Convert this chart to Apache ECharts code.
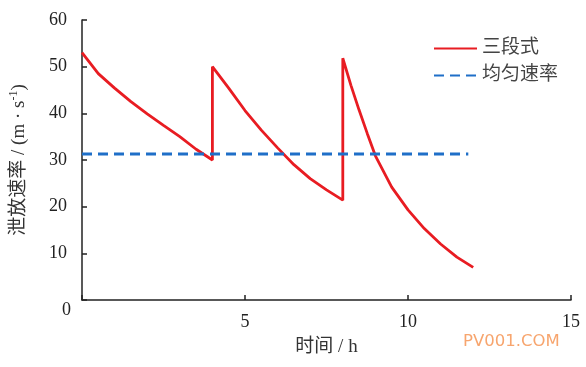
<!DOCTYPE html>
<html>
<head>
<meta charset="utf-8">
<script src="https://cdn.jsdelivr.net/npm/echarts@6/dist/echarts.min.js"></script>
<style>
html,body{margin:0;padding:0;background:#fff;}
#chart{width:586px;height:367px;}
</style>
</head>
<body>
<div id="chart"></div>
<script>
// Data
var seriesNames = ['三段式', '均匀速率'];
var stageTimes = [0, 0.5, 1, 1.5, 2, 2.5, 3, 3.5, 4,
                  4, 4.5, 5, 5.5, 6, 6.5, 7, 7.5, 8,
                  8, 8.25, 8.5, 8.75, 9, 9.5, 10, 10.5, 11, 11.5, 12];
var stageRates = [53.0, 48.5, 45.4, 42.5, 39.9, 37.4, 35.0, 32.3, 30.0,
                  50.0, 45.4, 40.6, 36.4, 32.6, 29.0, 26.0, 23.6, 21.4,
                  51.8, 46.0, 40.7, 35.7, 30.9, 24.2, 19.3, 15.3, 12.0, 9.2, 7.0];
var uniformTimes = [0, 11.85];
var uniformRates = [31.3, 31.3];
var xTicks = [0, 5, 10, 15];
var yTicks = [0, 10, 20, 30, 40, 50, 60];

var serif = '"Liberation Serif", "Noto Sans CJK SC", serif';
var chart = echarts.init(document.getElementById('chart'), null, {renderer: 'canvas'});

function pairs(xs, ys) { return xs.map(function (x, i) { return [x, ys[i]]; }); }

var option = {
  animation: false,
  backgroundColor: '#ffffff',
  grid: {left: 80, right: 15, top: 20, bottom: 67, containLabel: false},
  legend: {
    orient: 'vertical',
    left: 433, top: 39, padding: 0,
    itemWidth: 43, itemHeight: 14, itemGap: 8,
    itemStyle: {opacity: 0},
    textStyle: {fontFamily: serif, fontSize: 19, color: '#444'},
    data: [seriesNames[0], seriesNames[1]]
  },
  xAxis: {
    type: 'value', min: xTicks[0], max: xTicks[xTicks.length - 1], interval: 5,
    name: '时间 / h', nameLocation: 'middle', nameGap: 38,
    nameTextStyle: {fontFamily: serif, fontSize: 19, color: '#333'},
    axisLine: {show: true, lineStyle: {color: '#222', width: 1.5}},
    axisTick: {show: true, inside: true, length: 5, lineStyle: {color: '#222', width: 1.5}},
    axisLabel: {fontFamily: serif, fontSize: 18, color: '#222', margin: 13,
      formatter: function (v) { return v === 0 ? '' : String(v); }},
    splitLine: {show: false}
  },
  yAxis: {
    type: 'value', min: yTicks[0], max: yTicks[yTicks.length - 1], interval: 10,
    name: '{a|泄放速率 / (m · s}{sup|-1}{a|)}', nameLocation: 'middle', nameGap: 52,
    nameTextStyle: {fontFamily: serif, fontSize: 19, color: '#333',
      rich: {
        a: {fontFamily: serif, fontSize: 19, color: '#333'},
        sup: {fontFamily: serif, fontSize: 12, color: '#333', padding: [0, 0, 10, 0]}
      }},
    axisLine: {show: true, lineStyle: {color: '#222', width: 1.5}},
    axisTick: {show: true, inside: true, length: 5, lineStyle: {color: '#222', width: 1.5}},
    axisLabel: {fontFamily: serif, fontSize: 18, color: '#222', margin: 15,
      formatter: function (v) { return v === 0 ? '' : String(v); }},
    splitLine: {show: false}
  },
  graphic: [
    {type: 'text', left: 62, top: 301,
     style: {text: '0', font: '18px "Liberation Serif", serif', fill: '#222'}},
    {type: 'text', left: 463, top: 333,
     style: {text: 'PV001.COM', font: '16.5px "DejaVu Sans", sans-serif', fill: '#f7a56e'}}
  ],
  series: [
    {
      name: seriesNames[0], type: 'line', data: pairs(stageTimes, stageRates),
      showSymbol: false, symbol: 'none', smooth: false,
      lineStyle: {color: '#e81c22', width: 2.8},
      itemStyle: {color: '#e81c22'}
    },
    {
      name: seriesNames[1], type: 'line', data: pairs(uniformTimes, uniformRates),
      showSymbol: false, symbol: 'none',
      lineStyle: {color: '#1f6fc8', width: 3, type: [10, 6]},
      itemStyle: {color: '#1f6fc8'}
    }
  ]
};
chart.setOption(option);
</script>
</body>
</html>
